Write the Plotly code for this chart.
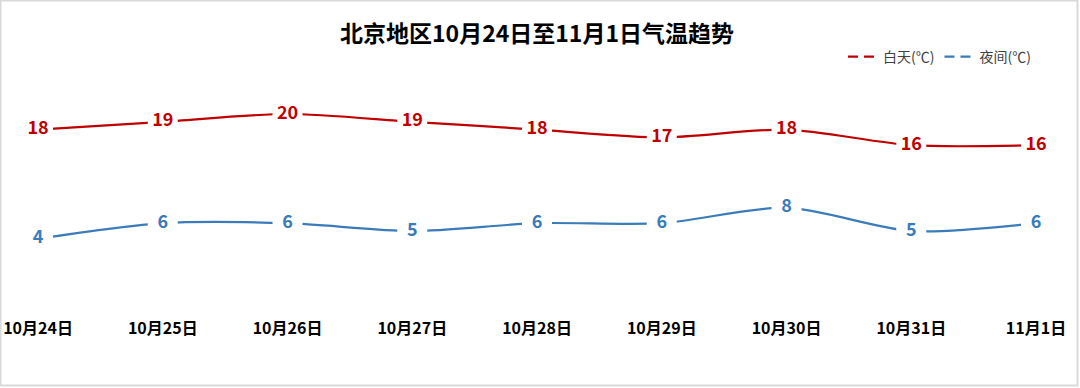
import plotly.graph_objects as go

categories = ["10月24日", "10月25日", "10月26日", "10月27日", "10月28日",
              "10月29日", "10月30日", "10月31日", "11月1日"]
day_temps = [18, 19, 20, 19, 18, 17, 18, 16, 16]
night_temps = [4, 6, 6, 5, 6, 6, 8, 5, 6]

RED = "#C00000"
BLUE = "#3A7BBA"
FONT = "Noto Sans CJK SC"

W, H = 1080, 388
L, R, T, B = 38, 44, 75, 79

xs = list(range(len(categories)))

fig = go.Figure()

for vals, color, name in [(day_temps, RED, "白天(℃)"), (night_temps, BLUE, "夜间(℃)")]:
    fig.add_trace(go.Scatter(
        x=xs, y=vals, mode="lines+markers+text",
        line=dict(color=color, width=2.2, shape="spline", smoothing=0.8),
        marker=dict(symbol="square", size=30, color="white", line=dict(width=0)),
        text=[str(v) for v in vals], textposition="middle center",
        textfont=dict(family=FONT, size=18, color=color, weight="bold"),
        showlegend=False, hoverinfo="skip", cliponaxis=False,
    ))
    fig.add_trace(go.Scatter(
        x=[None], y=[None], mode="lines", name=name,
        line=dict(color=color, width=2.2, dash="10px,6px"),
    ))

pw = W - L - R
ph = H - T - B
fig.add_shape(type="rect", xref="paper", yref="paper",
              x0=(0.5 - L) / pw, x1=1 + (R - 2.5) / pw,
              y0=-(B - 2.5) / ph, y1=1 + (T - 0.5) / ph,
              line=dict(color="#D9D9D9", width=2), fillcolor="rgba(0,0,0,0)", layer="below")

fig.update_layout(
    width=W, height=H,
    margin=dict(l=L, r=R, t=T, b=B, autoexpand=False),
    paper_bgcolor="white", plot_bgcolor="white",
    title=dict(text="<b>北京地区10月24日至11月1日气温趋势</b>", x=0.5, xref="paper",
               xanchor="center", y=1 - 34 / H, yanchor="middle",
               font=dict(family=FONT, size=23, color="#000000")),
    legend=dict(orientation="h", x=1, xanchor="right", y=1 + (T - 57) / ph, yanchor="middle",
                font=dict(family=FONT, size=14, color="#404040"),
                itemwidth=30, tracegroupgap=0, bgcolor="rgba(0,0,0,0)"),
    xaxis=dict(range=[0, len(categories) - 1], tickmode="array", tickvals=xs,
               ticktext=categories, showgrid=False, zeroline=False, showline=False,
               automargin=False,
               ticks="outside", ticklen=5, tickcolor="white",
               tickfont=dict(family=FONT, size=16, color="#000000", weight="bold")),
    yaxis=dict(range=[-5, 25], visible=False, automargin=False),
)

fig.write_html("out.html")
